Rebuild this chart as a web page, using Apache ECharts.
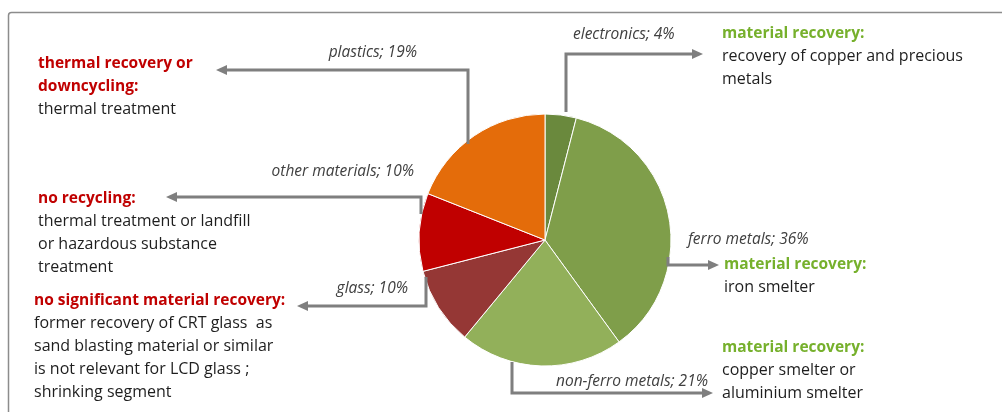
<!DOCTYPE html>
<html>
<head>
<meta charset="utf-8">
<script src="https://cdn.jsdelivr.net/npm/echarts@6/dist/echarts.min.js"></script>
<style>
  html, body { margin: 0; padding: 0; background: #ffffff; }
  #chart { width: 1002px; height: 412px; }
</style>
</head>
<body>
<div id="chart"></div>
<script>
// Material fractions in e-waste, clockwise from 12 o'clock
const materials = ['electronics', 'ferro metals', 'non-ferro metals', 'glass', 'other materials', 'plastics'];
const shares = [4, 36, 21, 10, 10, 19];
const sliceColors = ['#6a893d', '#7f9e4a', '#92b05a', '#953735', '#c00000', '#e46c0a'];

// Treatment route text for each group
const routeHeads = [
  'material recovery:',
  'material recovery:',
  'material recovery:',
  'no significant material recovery:',
  'no recycling:',
  'thermal recovery or\ndowncycling:'
];
const routeBodies = [
  'recovery of copper and precious\nmetals',
  'iron smelter',
  'copper smelter or\naluminium smelter',
  'former recovery of CRT glass  as\nsand blasting material or similar\nis not relevant for LCD glass ;\nshrinking segment',
  'thermal treatment or landfill\nor hazardous substance\ntreatment',
  'thermal treatment'
];
const headColors = ['#76b02c', '#76b02c', '#76b02c', '#c00000', '#c00000', '#c00000'];

const FONT = '"Open Sans", Lato, sans-serif';
const ARROW = '#7f7f7f';

const chart = echarts.init(document.getElementById('chart'), null, { renderer: 'canvas' });

// layout of each callout: label anchor, connector path, text block
const callouts = [
  { label: [573, 35, 'left'],  path: [[566, 112], [566, 54], [694, 54]], dir: 'right', block: [722, 22] },
  { label: [688, 240, 'left'], path: [[668, 257], [668, 265], [710, 265]], dir: 'right', block: [724, 253] },
  { label: [708, 382, 'right'], path: [[512, 362], [512, 393], [704, 393]], dir: 'right', block: [722, 336] },
  { label: [408, 289, 'right'], path: [[426, 277], [426, 306], [306, 306]], dir: 'left', block: [34, 289] },
  { label: [414, 172, 'right'], path: [[421, 214], [421, 197], [175, 197]], dir: 'left', block: [38, 187] },
  { label: [417, 53, 'right'], path: [[468, 144], [468, 70], [225, 70]], dir: 'left', block: [38, 52] }
];

const graphics = [
  // frame
  { type: 'rect', shape: { x: 8.5, y: 12.5, width: 1020, height: 430, r: 3 },
    style: { fill: 'none', stroke: '#8c8c8c', lineWidth: 1.5 }, silent: true, z: 0 }
];

callouts.forEach((c, i) => {
  const pts = c.path;
  const end = pts[pts.length - 1];
  graphics.push({ type: 'polyline', shape: { points: pts },
    style: { stroke: ARROW, lineWidth: 3, fill: null }, z: 10 });
  const tip = c.dir === 'right' ? end[0] + 9 : end[0] - 9;
  const back = c.dir === 'right' ? end[0] - 2 : end[0] + 2;
  graphics.push({ type: 'polygon',
    shape: { points: [[tip, end[1]], [back, end[1] - 5], [back, end[1] + 5]] },
    style: { fill: ARROW }, z: 10 });
  // slice label, built from the data
  graphics.push({ type: 'text', x: c.label[0], y: c.label[1], z: 11,
    style: { text: materials[i] + '; ' + shares[i] + '%', fill: '#404040',
      font: 'italic 15.5px ' + FONT, align: c.label[2], verticalAlign: 'middle' } });
  // route text block
  const heads = routeHeads[i].split('\n').map(s => '{h|' + s + '}');
  const bodies = routeBodies[i].split('\n').map(s => '{b|' + s + '}');
  graphics.push({ type: 'text', x: c.block[0], y: c.block[1], z: 11,
    style: {
      text: heads.concat(bodies).join('\n'),
      verticalAlign: 'top', align: 'left',
      rich: {
        h: { fontFamily: FONT, fontSize: 15.5, fontWeight: 'bold', fill: headColors[i], lineHeight: 23 },
        b: { fontFamily: FONT, fontSize: 16, fill: '#1e1e1e', lineHeight: 23 }
      }
    } });
});

chart.setOption({
  animation: false,
  backgroundColor: '#ffffff',
  series: [{
    type: 'pie',
    center: [545, 240],
    radius: 126,
    startAngle: 90,
    clockwise: true,
    label: { show: false },
    labelLine: { show: false },
    itemStyle: { borderColor: '#ffffff', borderWidth: 1 },
    data: materials.map((m, i) => ({ name: m, value: shares[i], itemStyle: { color: sliceColors[i] } })),
    z: 5
  }],
  graphic: graphics
});
</script>
</body>
</html>
